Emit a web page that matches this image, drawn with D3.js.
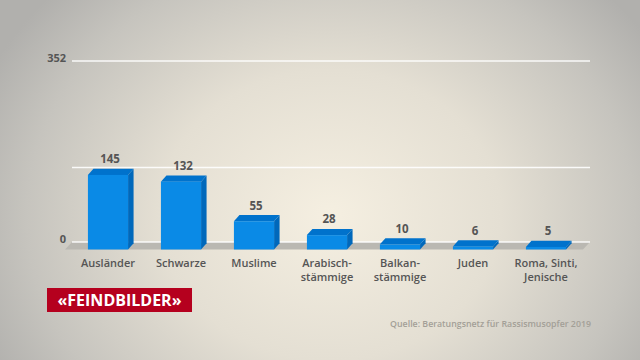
<!DOCTYPE html>
<html><head><meta charset="utf-8">
<script src="https://cdn.jsdelivr.net/npm/d3@7"></script>
<style>html,body{margin:0;padding:0;overflow:hidden}svg{display:block}</style>
</head><body>
<svg id="c" width="640" height="360"></svg>
<script>
const categories = [["Ausländer"],["Schwarze"],["Muslime"],["Arabisch-","stämmige"],["Balkan-","stämmige"],["Juden"],["Roma, Sinti,","Jenische"]];
const values = [145, 132, 55, 28, 10, 6, 5];
const gridValues = [0, 145, 352];
const tickLabels = [0, 352];
const title = "«FEINDBILDER»";
const source = "Quelle: Beratungsnetz für Rassismusopfer 2019";

const svg = d3.select("#c");
const defs = svg.append("defs");
const bg = defs.append("radialGradient").attr("id","bg")
  .attr("gradientUnits","userSpaceOnUse").attr("cx",330).attr("cy",215).attr("r",380)
  .attr("gradientTransform","translate(330,215) scale(1,0.85) translate(-330,-215)");
bg.append("stop").attr("offset","0%").attr("stop-color","#f5efe1");
bg.append("stop").attr("offset","45%").attr("stop-color","#e4dfd3");
bg.append("stop").attr("offset","80%").attr("stop-color","#c6c4be");
bg.append("stop").attr("offset","100%").attr("stop-color","#b1b0ad");
svg.append("rect").attr("width",640).attr("height",360).attr("fill","url(#bg)");

const y = d3.scaleLinear().domain([0,352]).range([242,61]);
const x = d3.scaleBand().domain(d3.range(categories.length)).range([71.5,582.5]).paddingInner(0.45).paddingOuter(0.225);
const DX = 5.5, DY = 6.2, FRONT = 7.5;
const font = "'Open Sans', sans-serif";

// floor
svg.append("path").attr("fill","#bab8b2")
  .attr("d", `M72,${y(0)} L590,${y(0)} L583,${y(0)+7.5} L65,${y(0)+7.5} Z`);

// gridlines
svg.append("g").selectAll("line").data(gridValues).join("line")
  .attr("x1",72).attr("x2",590).attr("y1",d=>y(d)).attr("y2",d=>y(d))
  .attr("stroke","#ffffff").attr("stroke-width",1.5).attr("opacity",0.9);

// tick labels
svg.append("g").selectAll("text").data(tickLabels).join("text")
  .attr("x",66).attr("y",d=>y(d)+1).attr("text-anchor","end")
  .attr("font-family",font).attr("font-weight",700).attr("font-size",11)
  .attr("fill","#555").text(d=>d);

// bars
const bars = svg.append("g").selectAll("g").data(values).join("g");
bars.each(function(v,i){
  const g = d3.select(this);
  const x0 = x(i), x1 = x(i)+x.bandwidth();
  const yb = y(0)+FRONT, yt = y(v)+FRONT;
  // side
  g.append("path").attr("fill","#0068bb")
    .attr("d",`M${x1},${yt} L${x1+DX},${yt-DY} L${x1+DX},${yb-DY} L${x1},${yb} Z`);
  // top
  g.append("path").attr("fill","#0072cc")
    .attr("d",`M${x0},${yt} L${x0+DX},${yt-DY} L${x1+DX},${yt-DY} L${x1},${yt} Z`);
  // front
  g.append("rect").attr("x",x0).attr("y",yt).attr("width",x.bandwidth()).attr("height",Math.max(0,yb-yt))
    .attr("fill","#0a8ae6");
  // value label
  g.append("text").attr("x",(x0+x1)/2+2).attr("y",yt-DY-5.5).attr("text-anchor","middle")
    .attr("font-family",font).attr("font-weight",700).attr("font-size",11.5)
    .attr("fill","#555").text(v);
});

// category labels
const cl = svg.append("g").selectAll("text").data(categories).join("text")
  .attr("x",(d,i)=>x(i)+x.bandwidth()/2).attr("y",267).attr("text-anchor","middle")
  .attr("font-family",font).attr("font-weight",600).attr("font-size",11)
  .attr("fill","#555");
cl.each(function(lines){
  const t = d3.select(this);
  lines.forEach((l,k)=>t.append("tspan").attr("x",t.attr("x")).attr("dy",k?13.5:0).text(l));
});

// title box
svg.append("rect").attr("x",47).attr("y",288).attr("width",145).attr("height",24).attr("fill","#b5001e");
svg.append("text").attr("x",119.5).attr("y",306).attr("text-anchor","middle")
  .attr("font-family",font).attr("font-weight",700).attr("font-size",16)
  .attr("fill","#fff").text(title);

// source
svg.append("text").attr("x",591).attr("y",326.5).attr("text-anchor","end")
  .attr("font-family",font).attr("font-weight",600).attr("font-size",8.8)
  .attr("fill","#a39f97").text(source);
</script>
</body></html>
